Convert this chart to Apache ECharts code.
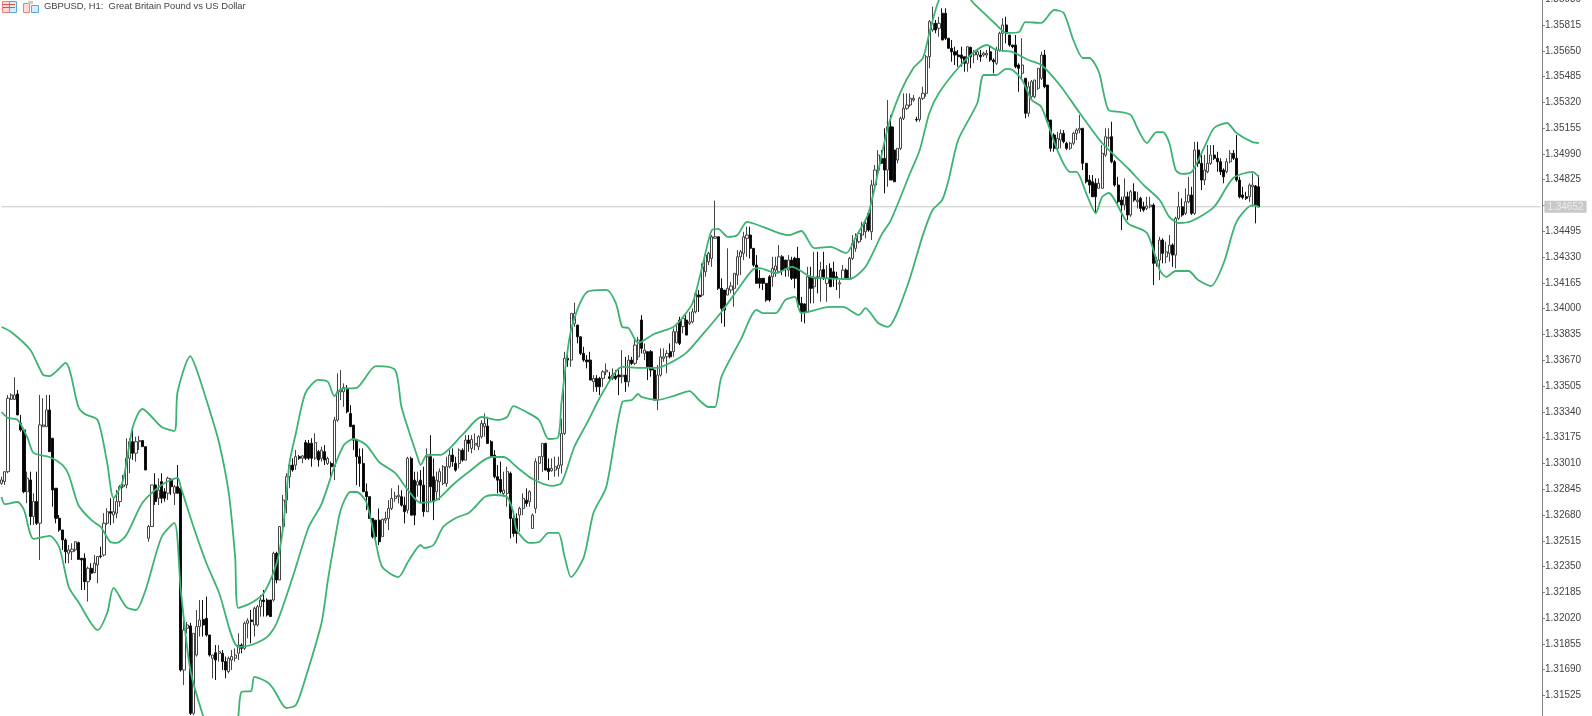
<!DOCTYPE html>
<html>
<head>
<meta charset="utf-8">
<title>GBPUSD H1</title>
<script src="https://cdn.jsdelivr.net/npm/echarts@6/dist/echarts.min.js"></script>
<style>
html, body { margin: 0; padding: 0; background: #fff; }
#chart { width: 1592px; height: 716px; }
</style>
</head>
<body>
<div id="chart"></div>
<script>
var chartTitle = 'GBPUSD, H1:  Great Britain Pound vs US Dollar'
var currentPrice = 1.34652
var tickStep = 0.00165
var slotCount = 482   // candles plus the empty space on the right
var tickLabels = ['1.31360','1.31525','1.31690','1.31855','1.32020','1.32185','1.32350','1.32515','1.32680','1.32845','1.33010','1.33175','1.33340','1.33505','1.33670','1.33835','1.34000','1.34165','1.34330','1.34495','1.34660','1.34825','1.34990','1.35155','1.35320','1.35485','1.35650','1.35815','1.35980','1.36145']

var opens = [
1.32883,1.32894,1.32957,1.33420,1.33420,1.33454,1.33267,1.33224,1.32829,1.32904,
1.32670,1.32766,1.32627,1.33245,1.33245,1.33352,1.33171,1.32851,1.32659,1.32584,
1.32520,1.32435,1.32445,1.32456,1.32503,1.32403,1.32403,1.32253,1.32339,1.32311,
1.32360,1.32418,1.32424,1.32627,1.32701,1.32680,1.32691,1.32766,1.32861,1.32872,
1.33043,1.33149,1.33075,1.33149,1.33156,1.33117,1.32531,1.32606,1.32872,1.32787,
1.32893,1.32829,1.32819,1.32904,1.32819,1.32861,1.32851,1.31688,1.31955,1.31970,
1.31411,1.31784,1.31966,1.32012,1.32019,1.31912,1.31763,1.31799,1.31795,1.31795,
1.31742,1.31678,1.31752,1.31763,1.31795,1.31848,1.31827,1.31987,1.32008,1.31976,
1.31976,1.32093,1.32136,1.32136,1.32136,1.32136,1.32435,1.32264,1.32606,1.32776,
1.32925,1.32999,1.32999,1.33053,1.33043,1.33143,1.33139,1.33139,1.33043,1.33085,
1.33042,1.33085,1.33010,1.33010,1.32989,1.33287,1.33468,1.33468,1.33490,1.33330,
1.33255,1.33163,1.33053,1.33010,1.32829,1.32797,1.32658,1.32647,1.32647,1.32541,
1.32647,1.32658,1.32722,1.32786,1.32797,1.32797,1.32743,1.32711,1.33042,1.32903,
1.32871,1.32903,1.32871,1.32701,1.33053,1.32925,1.32829,1.32893,1.32882,1.32882,
1.32989,1.33063,1.33010,1.33010,1.33095,1.33031,1.33159,1.33106,1.33127,1.33117,
1.33181,1.33245,1.33249,1.33149,1.33063,1.32925,1.32907,1.32818,1.32818,1.32946,
1.32658,1.32658,1.32679,1.32722,1.32775,1.32765,1.32594,1.32722,1.33010,1.33053,
1.33138,1.32978,1.32963,1.32967,1.32978,1.32999,1.33202,1.33682,1.33671,1.33906,
1.33895,1.33820,1.33714,1.33671,1.33671,1.33532,1.33554,1.33554,1.33554,1.33596,
1.33564,1.33554,1.33569,1.33575,1.33564,1.33575,1.33532,1.33671,1.33650,1.33692,
1.33927,1.33714,1.33725,1.33725,1.33607,1.33415,1.33575,1.33682,1.33692,1.33725,
1.33725,1.33782,1.33927,1.33885,1.33927,1.33906,1.33916,1.33980,1.34087,1.34087,
1.34236,1.34300,1.34322,1.34450,1.34460,1.34130,1.34119,1.34087,1.34119,1.34130,
1.34215,1.34332,1.34354,1.34450,1.34471,1.34386,1.34279,1.34194,1.34194,1.34162,
1.34204,1.34204,1.34247,1.34236,1.34332,1.34311,1.34247,1.34311,1.34322,1.34322,
1.34034,1.34030,1.33980,1.34204,1.34140,1.34204,1.34194,1.34251,1.34162,1.34258,
1.34236,1.34204,1.34158,1.34194,1.34247,1.34194,1.34322,1.34386,1.34428,1.34471,
1.34492,1.34610,1.34492,
1.34791,1.34887,1.34962,1.34962,1.34887,1.35164,1.35015,1.34951,1.35026,1.35218,
1.35282,1.35303,1.35335,1.35211,1.35211,1.35346,1.35378,1.35612,1.35783,1.35826,
1.35794,1.35890,1.35890,1.35730,1.35666,1.35644,1.35623,1.35623,1.35612,1.35570,
1.35672,1.35623,1.35623,1.35623,1.35623,1.35623,1.35644,1.35591,1.35570,1.35655,
1.35762,1.35815,1.35751,1.35687,1.35687,1.35559,1.35506,1.35474,1.35250,1.35356,
1.35356,1.35410,1.35474,1.35623,1.35431,1.35207,1.35111,1.35026,1.35079,1.35122,
1.35058,1.35026,1.35058,1.35122,1.35143,
1.35154,1.34930,1.34823,1.34812,1.34802,1.34770,1.34770,1.34983,1.35090,1.35100,
1.34940,1.34791,1.34695,1.34663,1.34716,1.34599,1.34748,1.34684,1.34706,1.34652,
1.34642,1.34652,1.34663,1.34290,1.34311,1.34439,1.34332,1.34354,1.34407,1.34343,
1.34578,1.34652,1.34610,1.34684,1.34727,1.34610,1.35015,1.34930,1.34823,1.34876,
1.34930,1.34983,1.34962,1.34940,1.34887,1.34876,1.34940,1.34994,1.34962,1.34823,
1.34727,1.34716,1.34716,1.34780,1.34785,1.34780
]
var closes = [
1.32904,1.32957,1.33427,1.33448,1.33448,1.33320,1.33224,1.32829,1.32915,1.32670,
1.32766,1.32627,1.33256,1.33256,1.33352,1.33085,1.32840,1.32659,1.32584,1.32520,
1.32445,1.32456,1.32461,1.32509,1.32396,1.32392,1.32253,1.32339,1.32307,1.32371,
1.32414,1.32414,1.32627,1.32701,1.32691,1.32701,1.32766,1.32861,1.32872,1.33043,
1.33149,1.33075,1.33149,1.33156,1.33117,1.32968,1.32606,1.32872,1.32766,1.32840,
1.32787,1.32787,1.32915,1.32861,1.32861,1.32819,1.31688,1.31944,1.31976,1.31411,
1.31923,1.31966,1.32008,1.31976,1.31912,1.31784,1.31784,1.31752,1.31806,1.31742,
1.31688,1.31763,1.31774,1.31784,1.31848,1.31827,1.31987,1.32004,1.31998,1.32083,
1.32093,1.32136,1.32126,1.32040,1.32030,1.32435,1.32264,1.32606,1.32776,1.32925,
1.32999,1.32968,1.33053,1.33043,1.33058,1.33043,1.33043,1.33043,1.33143,1.33032,
1.33095,1.33031,1.33042,1.32989,1.33287,1.33468,1.33479,1.33496,1.33340,1.33245,
1.33159,1.33053,1.33010,1.32829,1.32797,1.32658,1.32541,1.32541,1.32509,1.32652,
1.32658,1.32722,1.32786,1.32801,1.32807,1.32743,1.32701,1.33042,1.32679,1.32679,
1.32893,1.32871,1.32701,1.33053,1.32861,1.32765,1.32903,1.32957,1.32989,1.32989,
1.33063,1.33021,1.32967,1.33095,1.33031,1.33159,1.33138,1.33163,1.33138,1.33181,
1.33266,1.33266,1.33138,1.33053,1.32925,1.32903,1.32829,1.32839,1.32957,1.32658,
1.32562,1.32562,1.32722,1.32786,1.32754,1.32829,1.32679,1.33021,1.33053,1.33138,
1.32967,1.32957,1.32978,1.32989,1.32999,1.33202,1.33682,1.33671,1.33970,1.33970,
1.33820,1.33714,1.33671,1.33660,1.33543,1.33554,1.33500,1.33500,1.33596,1.33607,
1.33554,1.33575,1.33554,1.33564,1.33575,1.33532,1.33671,1.33650,1.33767,1.33799,
1.33746,1.33735,1.33629,1.33607,1.33415,1.33575,1.33692,1.33692,1.33714,1.33692,
1.33853,1.33853,1.33778,1.33938,1.33831,1.33916,1.33980,1.34098,1.34076,1.34268,
1.34343,1.34354,1.34460,1.34460,1.34130,1.34002,1.33991,1.34130,1.34145,1.34226,
1.34332,1.34364,1.34460,1.34471,1.34386,1.34279,1.34162,1.34162,1.34162,1.34055,
1.34055,1.34258,1.34273,1.34332,1.34247,1.34258,1.34311,1.34194,1.34194,1.34023,
1.33980,1.33980,1.34204,1.34130,1.34194,1.34194,1.34247,1.34194,1.34194,1.34140,
1.34194,1.34194,1.34166,1.34247,1.34194,1.34322,1.34418,1.34450,1.34482,1.34535,
1.34546,1.34503,1.34791,
1.34887,1.34983,1.34930,1.34887,1.35164,1.34823,1.34812,1.35026,1.35218,1.35282,
1.35303,1.35346,1.35346,1.35207,1.35346,1.35378,1.35612,1.35836,1.35826,1.35783,
1.35826,1.35719,1.35730,1.35666,1.35644,1.35623,1.35612,1.35602,1.35570,1.35676,
1.35612,1.35644,1.35644,1.35612,1.35634,1.35634,1.35591,1.35580,1.35655,1.35762,
1.35815,1.35762,1.35687,1.35676,1.35548,1.35538,1.35559,1.35250,1.35420,1.35452,
1.35463,1.35538,1.35623,1.35420,1.35196,1.35026,1.35026,1.35090,1.35122,1.35068,
1.35026,1.35058,1.35122,1.35143,1.35154,
1.34930,1.34812,1.34791,1.34716,1.34716,1.34802,1.34994,1.35100,1.35096,1.34940,
1.34791,1.34684,1.34663,1.34716,1.34599,1.34748,1.34695,1.34695,1.34642,1.34631,
1.34657,1.34663,1.34290,1.34311,1.34439,1.34354,1.34364,1.34407,1.34343,1.34578,
1.34652,1.34599,1.34684,1.34727,1.34610,1.35015,1.34930,1.34823,1.34887,1.34930,
1.34983,1.34962,1.34940,1.34876,1.34844,1.34940,1.34994,1.34962,1.34823,1.34716,
1.34712,1.34706,1.34791,1.34791,1.34663,1.34652
]
var lows = [
1.32872,1.32872,1.32947,1.33416,1.33416,1.33320,1.33213,1.32819,1.32755,1.32616,
1.32616,1.32616,1.32392,1.33245,1.33245,1.33085,1.32733,1.32627,1.32573,1.32456,
1.32371,1.32371,1.32392,1.32445,1.32392,1.32200,1.32200,1.32126,1.32264,1.32307,
1.32243,1.32403,1.32414,1.32616,1.32616,1.32627,1.32659,1.32733,1.32851,1.32851,
1.32947,1.33032,1.33021,1.33096,1.33117,1.32968,1.32509,1.32606,1.32744,1.32744,
1.32755,1.32766,1.32776,1.32808,1.32744,1.32819,1.31678,1.31592,1.31923,1.31400,
1.31400,1.31774,1.31902,1.31902,1.31902,1.31774,1.31635,1.31624,1.31742,1.31688,
1.31635,1.31667,1.31688,1.31742,1.31752,1.31795,1.31816,1.31891,1.31859,1.31902,
1.31966,1.32030,1.32030,1.32030,1.32030,1.32126,1.32243,1.32264,1.32573,1.32691,
1.32851,1.32957,1.32968,1.33032,1.33011,1.33032,1.33032,1.32989,1.33032,1.32989,
1.33021,1.32999,1.33000,1.32903,1.32903,1.33276,1.33415,1.33372,1.33330,1.33245,
1.33095,1.32871,1.32861,1.32829,1.32711,1.32658,1.32530,1.32519,1.32487,1.32541,
1.32626,1.32583,1.32711,1.32765,1.32754,1.32733,1.32626,1.32690,1.32679,1.32615,
1.32797,1.32754,1.32669,1.32701,1.32765,1.32647,1.32775,1.32775,1.32871,1.32861,
1.32978,1.32989,1.32957,1.32978,1.33021,1.33031,1.33085,1.33074,1.33095,1.33095,
1.33170,1.33181,1.33138,1.33053,1.32914,1.32818,1.32818,1.32797,1.32733,1.32530,
1.32541,1.32498,1.32573,1.32679,1.32733,1.32733,1.32594,1.32690,1.32903,1.32957,
1.32967,1.32903,1.32957,1.32925,1.32925,1.32946,1.33191,1.33628,1.33628,1.33884,
1.33778,1.33703,1.33660,1.33618,1.33543,1.33468,1.33468,1.33447,1.33500,1.33575,
1.33543,1.33543,1.33543,1.33447,1.33522,1.33468,1.33500,1.33639,1.33639,1.33671,
1.33714,1.33671,1.33543,1.33565,1.33415,1.33351,1.33565,1.33660,1.33586,1.33682,
1.33692,1.33778,1.33767,1.33842,1.33831,1.33895,1.33906,1.33970,1.33980,1.34076,
1.34204,1.34279,1.34268,1.34450,1.34119,1.33906,1.33884,1.34087,1.34098,1.34012,
1.34151,1.34215,1.34311,1.34332,1.34322,1.34268,1.34162,1.34130,1.34119,1.34044,
1.34044,1.34140,1.34204,1.34226,1.34215,1.34204,1.34204,1.34183,1.34130,1.34012,
1.33916,1.33906,1.33980,1.34034,1.34034,1.34098,1.34044,1.34183,1.34044,1.34140,
1.34140,1.34119,1.34066,1.34183,1.34183,1.34183,1.34311,1.34364,1.34418,1.34439,
1.34450,1.34492,1.34439,
1.34770,1.34866,1.34930,1.34738,1.34780,1.34823,1.34812,1.34930,1.35015,1.35207,
1.35271,1.35292,1.35324,1.35196,1.35196,1.35335,1.35356,1.35538,1.35772,1.35762,
1.35740,1.35719,1.35719,1.35666,1.35580,1.35559,1.35548,1.35548,1.35516,1.35516,
1.35538,1.35570,1.35591,1.35580,1.35612,1.35602,1.35580,1.35506,1.35559,1.35644,
1.35644,1.35698,1.35676,1.35666,1.35538,1.35388,1.35474,1.35218,1.35228,1.35346,
1.35346,1.35399,1.35463,1.35410,1.35186,1.35005,1.35005,1.35015,1.35026,1.35058,
1.35015,1.35015,1.35047,1.35079,1.35122,
1.34887,1.34802,1.34738,1.34716,1.34610,1.34770,1.34770,1.34972,1.35036,1.34930,
1.34780,1.34674,1.34503,1.34631,1.34567,1.34588,1.34684,1.34642,1.34620,1.34620,
1.34631,1.34642,1.34151,1.34268,1.34183,1.34290,1.34290,1.34300,1.34268,1.34258,
1.34567,1.34588,1.34599,1.34674,1.34599,1.34599,1.34908,1.34759,1.34791,1.34866,
1.34919,1.34951,1.34876,1.34855,1.34802,1.34866,1.34930,1.34951,1.34812,1.34706,
1.34700,1.34695,1.34684,1.34652,1.34546,1.34648
]
var highs = [
1.32925,1.32957,1.33448,1.33459,1.33561,1.33480,1.33320,1.33224,1.32957,1.32957,
1.32819,1.32957,1.33448,1.33427,1.33448,1.33448,1.33171,1.32851,1.32680,1.32584,
1.32531,1.32488,1.32499,1.32509,1.32509,1.32403,1.32435,1.32350,1.32371,1.32424,
1.32414,1.32477,1.32691,1.32723,1.32787,1.32787,1.32840,1.32872,1.32936,1.33171,
1.33171,1.33224,1.33181,1.33186,1.33156,1.33117,1.32616,1.32872,1.32947,1.32915,
1.32947,1.32851,1.32925,1.32915,1.32872,1.33000,1.32861,1.32040,1.31995,1.31990,
1.31923,1.32072,1.32136,1.32136,1.32158,1.31912,1.31784,1.31848,1.31848,1.31816,
1.31774,1.31774,1.31816,1.31827,1.31923,1.31859,1.31998,1.32019,1.32072,1.32093,
1.32104,1.32168,1.32200,1.32147,1.32136,1.32445,1.32445,1.32606,1.32808,1.32947,
1.33032,1.33043,1.33096,1.33064,1.33064,1.33160,1.33160,1.33171,1.33203,1.33096,
1.33117,1.33127,1.33053,1.33021,1.33308,1.33586,1.33607,1.33522,1.33511,1.33383,
1.33255,1.33163,1.33106,1.33106,1.32882,1.32797,1.32658,1.32647,1.32722,1.32658,
1.32701,1.32775,1.32850,1.32829,1.32871,1.32839,1.32797,1.33053,1.33053,1.32957,
1.32957,1.32967,1.32989,1.33106,1.33191,1.33042,1.32957,1.32978,1.32999,1.33053,
1.33095,1.33106,1.33053,1.33106,1.33106,1.33191,1.33191,1.33191,1.33202,1.33191,
1.33287,1.33330,1.33308,1.33159,1.33095,1.32999,1.33021,1.32957,1.32989,1.32957,
1.32701,1.32690,1.32733,1.32818,1.32850,1.32839,1.32690,1.33042,1.33053,1.33138,
1.33142,1.33042,1.33042,1.33053,1.33053,1.33298,1.33724,1.33703,1.33970,1.34038,
1.33895,1.33820,1.33756,1.33703,1.33724,1.33575,1.33575,1.33564,1.33607,1.33650,
1.33596,1.33618,1.33607,1.33607,1.33735,1.33692,1.33703,1.33692,1.33810,1.33820,
1.33959,1.33778,1.33725,1.33735,1.33618,1.33639,1.33746,1.33746,1.33735,1.33778,
1.33874,1.33906,1.33948,1.33948,1.33959,1.33980,1.34002,1.34108,1.34119,1.34290,
1.34354,1.34364,1.34471,1.34691,1.34460,1.34194,1.34119,1.34386,1.34172,1.34226,
1.34375,1.34375,1.34492,1.34524,1.34524,1.34386,1.34343,1.34247,1.34194,1.34162,
1.34215,1.34332,1.34332,1.34407,1.34343,1.34311,1.34343,1.34332,1.34332,1.34396,
1.34076,1.34034,1.34268,1.34268,1.34364,1.34364,1.34300,1.34364,1.34279,1.34290,
1.34300,1.34236,1.34183,1.34279,1.34258,1.34332,1.34471,1.34482,1.34492,1.34556,
1.34567,1.34620,1.34823,
1.34919,1.35015,1.35015,1.35154,1.35335,1.35239,1.35164,1.35026,1.35228,1.35378,
1.35378,1.35378,1.35367,1.35228,1.35356,1.35420,1.35623,1.35847,1.35932,1.35847,
1.35868,1.35922,1.35922,1.35730,1.35719,1.35676,1.35655,1.35676,1.35612,1.35676,
1.35676,1.35655,1.35655,1.35655,1.35644,1.35655,1.35687,1.35602,1.35676,1.35772,
1.35858,1.35868,1.35751,1.35687,1.35751,1.35570,1.35730,1.35474,1.35452,1.35463,
1.35463,1.35538,1.35644,1.35655,1.35431,1.35207,1.35122,1.35132,1.35147,1.35143,
1.35068,1.35068,1.35132,1.35154,1.35239,
1.35154,1.34930,1.34855,1.34855,1.34834,1.34834,1.35047,1.35154,1.35154,1.35196,
1.34951,1.34844,1.34716,1.34834,1.34748,1.34759,1.34802,1.34748,1.34716,1.34684,
1.34716,1.34716,1.34674,1.34332,1.34460,1.34450,1.34428,1.34471,1.34418,1.34588,
1.34748,1.34706,1.34770,1.34844,1.34780,1.35068,1.35068,1.34983,1.34983,1.35047,
1.35047,1.35047,1.35004,1.34962,1.34898,1.34962,1.35015,1.35015,1.35111,1.34844,
1.34780,1.34748,1.34802,1.34866,1.34791,1.34855
]

var upperIdx = [0,3,9,13,15,20,24,26,30,33,35,38,41,44,50,54,55,59,61,65,68,71,73,74,78,82,86,88,90,92,95,99,102,104,106,111,117,123,125,130,131,133,137,144,150,155,158,160,164,168,171,174,175,178,183,189,192,194,196,199,204,210,213,216,219,222,224,227,230,233,238,243,246,250,254,259,264,267,271,277,281,285,288,290,293,297,300,303,307,311,314,318,320,325,329,332,335,338,340,343,346,350,353,355,358,361,363,365,367,369,372,376,379,383,386,391,393]
var upperBand = [1.33883,1.33851,1.33736,1.33576,1.33569,1.33653,1.33371,1.33326,1.33288,1.33013,1.32789,1.32904,1.33243,1.33358,1.33243,1.33217,1.33467,1.33697,1.33608,1.33352,1.33141,1.32821,1.32411,1.32085,1.32117,1.32181,1.32373,1.32603,1.33013,1.33205,1.33461,1.33544,1.33531,1.33441,1.33486,1.33493,1.33633,1.33608,1.33371,1.33051,1.33000,1.33064,1.33064,1.33192,1.33307,1.33288,1.33307,1.33377,1.33339,1.33288,1.33166,1.33179,1.33397,1.33864,1.34107,1.34120,1.34036,1.33883,1.33876,1.33781,1.33838,1.33883,1.33947,1.34036,1.34267,1.34503,1.34510,1.34459,1.34471,1.34555,1.34523,1.34484,1.34471,1.34497,1.34388,1.34395,1.34356,1.34459,1.34612,1.35156,1.35386,1.35540,1.35604,1.35764,1.35975,1.36090,1.36103,1.35975,1.35892,1.35815,1.35764,1.35770,1.35834,1.35828,1.35911,1.35892,1.35719,1.35604,1.35604,1.35514,1.35271,1.35258,1.35239,1.35156,1.35060,1.35130,1.35130,1.35060,1.34887,1.34862,1.34875,1.35035,1.35156,1.35188,1.35124,1.35066,1.35060]
var middleIdx = [0,2,5,8,10,15,19,21,24,28,31,34,36,39,44,50,55,56,60,64,68,74,78,83,86,91,96,100,104,107,110,114,118,123,127,131,136,141,146,153,157,161,166,172,175,179,183,188,194,200,205,209,214,219,225,230,235,237,242,247,253,257,265,270,275,278,284,287,290,293,299,304,308,311,316,321,325,331,337,344,352,357,362,365,368,372,379,385,391,393]
var middleBand = [1.33339,1.33301,1.33288,1.33179,1.33077,1.33051,1.33000,1.32936,1.32744,1.32648,1.32603,1.32507,1.32501,1.32552,1.32757,1.32872,1.32917,1.32859,1.32603,1.32373,1.32181,1.31836,1.31848,1.31900,1.31989,1.32283,1.32603,1.32750,1.32987,1.33128,1.33166,1.33128,1.33019,1.32949,1.32840,1.32757,1.32776,1.32872,1.32955,1.33051,1.33051,1.32987,1.32910,1.32866,1.32885,1.33115,1.33269,1.33467,1.33627,1.33621,1.33621,1.33653,1.33717,1.33832,1.33979,1.34120,1.34254,1.34260,1.34228,1.34267,1.34203,1.34196,1.34190,1.34267,1.34471,1.34567,1.34868,1.35015,1.35252,1.35380,1.35540,1.35642,1.35687,1.35655,1.35642,1.35591,1.35559,1.35425,1.35252,1.35060,1.34900,1.34791,1.34695,1.34587,1.34548,1.34561,1.34651,1.34836,1.34875,1.34843]
var lowerIdx = [0,1,5,7,10,15,18,21,24,30,33,35,39,42,45,50,54,56,59,63,68,72,74,75,78,79,83,85,89,92,95,100,102,104,106,109,111,114,117,119,124,127,131,132,135,138,142,146,148,151,154,158,160,161,165,168,171,174,176,178,182,185,189,194,197,199,200,205,210,215,218,221,223,225,231,236,238,242,245,248,250,259,263,268,270,274,277,283,288,291,294,296,299,305,307,311,314,316,319,322,325,330,334,336,339,342,344,346,352,358,362,364,367,371,374,378,382,386,391,393]
var lowerBand = [1.32795,1.32750,1.32763,1.32712,1.32527,1.32546,1.32475,1.32219,1.32123,1.31944,1.32053,1.32213,1.32091,1.32072,1.32200,1.32539,1.32629,1.32200,1.31688,1.31394,1.31113,1.31113,1.31394,1.31548,1.31554,1.31644,1.31612,1.31567,1.31445,1.31464,1.31637,1.31989,1.32264,1.32501,1.32712,1.32827,1.32827,1.32763,1.32501,1.32347,1.32283,1.32379,1.32488,1.32469,1.32488,1.32603,1.32661,1.32693,1.32731,1.32795,1.32808,1.32795,1.32693,1.32584,1.32501,1.32507,1.32565,1.32565,1.32411,1.32283,1.32411,1.32693,1.32859,1.33403,1.33416,1.33454,1.33435,1.33416,1.33441,1.33473,1.33416,1.33371,1.33371,1.33563,1.33800,1.33992,1.33972,1.33972,1.34056,1.34075,1.33972,1.34011,1.34011,1.33960,1.34004,1.33908,1.33883,1.34139,1.34472,1.34631,1.34695,1.34823,1.35079,1.35316,1.35495,1.35495,1.35534,1.35527,1.35463,1.35335,1.35291,1.35015,1.34875,1.34875,1.34740,1.34612,1.34715,1.34740,1.34548,1.34484,1.34248,1.34203,1.34241,1.34241,1.34183,1.34145,1.34292,1.34555,1.34663,1.34651]

var bandColor = '#3cb371'

function onBodyLoad() {
    var chart = echarts.init(document.getElementById('chart'), null, {renderer: 'canvas'})

    var categories = []
    for (var i = 0; i < slotCount; i++) {
        categories.push(i)
    }

    var candles = []
    for (var c = 0; c < opens.length; c++) {
        candles.push([opens[c], closes[c], lows[c], highs[c]])
    }

    chart.setOption(makeOption(categories, candles))
}

function bandPoints(idx, values) {
    var points = []
    for (var i in idx) {
        points.push([idx[i], values[i]])
    }
    return points
}

function bandSeries(name, idx, values) {
    return {
        name: name,
        type: 'line',
        data: bandPoints(idx, values),
        symbol: 'none',
        silent: true,
        smooth: 0.25,
        z: 5,
        lineStyle: {color: bandColor, width: 1.8, join: 'round'}
    }
}

// current price line with its tag on the axis
function priceSeries() {
    return {
        name: 'Price',
        type: 'line',
        data: [[0, currentPrice], [slotCount - 1, currentPrice]],
        symbol: 'none',
        silent: true,
        z: 1,
        lineStyle: {color: '#c8c8c8', width: 1},
        endLabel: {
            show: true,
            distance: 4,
            formatter: currentPrice.toFixed(5),
            fontFamily: 'Liberation Sans',
            fontSize: 10,
            color: '#eee',
            backgroundColor: '#c8c8c8',
            padding: [1, 3, 1, 3]
        }
    }
}

function makeOption(categories, candles) {
    return {
        animation: false,
        backgroundColor: '#fff',
        title: {
            text: chartTitle,
            left: 44,
            top: 2,
            padding: 0,
            textStyle: {fontFamily: 'Liberation Sans', fontSize: 9.4, fontWeight: 'normal', color: '#444'}
        },
        // the two little icons in front of the title
        graphic: [
            {type: 'rect', left: 2, top: 1, shape: {width: 7, height: 11}, style: {fill: '#fbdcd8', stroke: '#ee7f76', lineWidth: 1}},
            {type: 'rect', left: 9, top: 1, shape: {width: 7, height: 11}, style: {fill: '#d9ebf8', stroke: '#5aa5dc', lineWidth: 1}},
            {type: 'rect', left: 3, top: 4, shape: {width: 12, height: 1}, style: {fill: '#d9534a'}},
            {type: 'rect', left: 3, top: 7, shape: {width: 12, height: 1}, style: {fill: '#d9534a'}},
            {type: 'rect', left: 23, top: 3, shape: {width: 6, height: 9}, style: {fill: '#fbdcd8', stroke: '#ee7f76', lineWidth: 1}},
            {type: 'rect', left: 31, top: 5, shape: {width: 7, height: 7}, style: {fill: '#d9ebf8', stroke: '#5aa5dc', lineWidth: 1}},
            {type: 'rect', left: 28, top: 1, shape: {width: 5, height: 3}, style: {fill: '#ccc'}}
        ],
        // axis runs past the top and bottom of the page, as the chart window cuts it
        grid: {left: 0, right: 50, top: -26.58, bottom: -5.29, outerBoundsMode: 'none'},
        xAxis: {
            type: 'category',
            data: categories,
            show: false,
            boundaryGap: true
        },
        yAxis: {
            type: 'value',
            position: 'right',
            min: parseFloat(tickLabels[0]),
            max: parseFloat(tickLabels[tickLabels.length - 1]),
            interval: tickStep,
            splitLine: {show: false},
            axisLine: {show: true, onZero: false, lineStyle: {color: '#808080', width: 1}},
            axisTick: {show: true, length: 3, lineStyle: {color: '#808080'}},
            axisLabel: {
                margin: 3,
                fontFamily: 'Liberation Sans',
                fontSize: 10,
                color: '#444',
                showMinLabel: true,
                showMaxLabel: true,
                formatter: function (value) {
                    var text = value.toFixed(5)
                    // hidden behind the current price tag
                    return text === '1.34660' ? '' : text
                }
            }
        },
        series: [
            priceSeries(),
            {
                name: 'GBPUSD',
                type: 'candlestick',
                data: candles,
                barWidth: 2.6,
                large: false,
                progressive: 0,
                silent: true,
                itemStyle: {
                    color: '#fff',
                    color0: '#000',
                    borderColor: '#444',
                    borderColor0: '#111',
                    borderWidth: 1
                }
            },
            bandSeries('Upper', upperIdx, upperBand),
            bandSeries('Middle', middleIdx, middleBand),
            bandSeries('Lower', lowerIdx, lowerBand)
        ]
    }
}

onBodyLoad()
</script>
</body>
</html>
